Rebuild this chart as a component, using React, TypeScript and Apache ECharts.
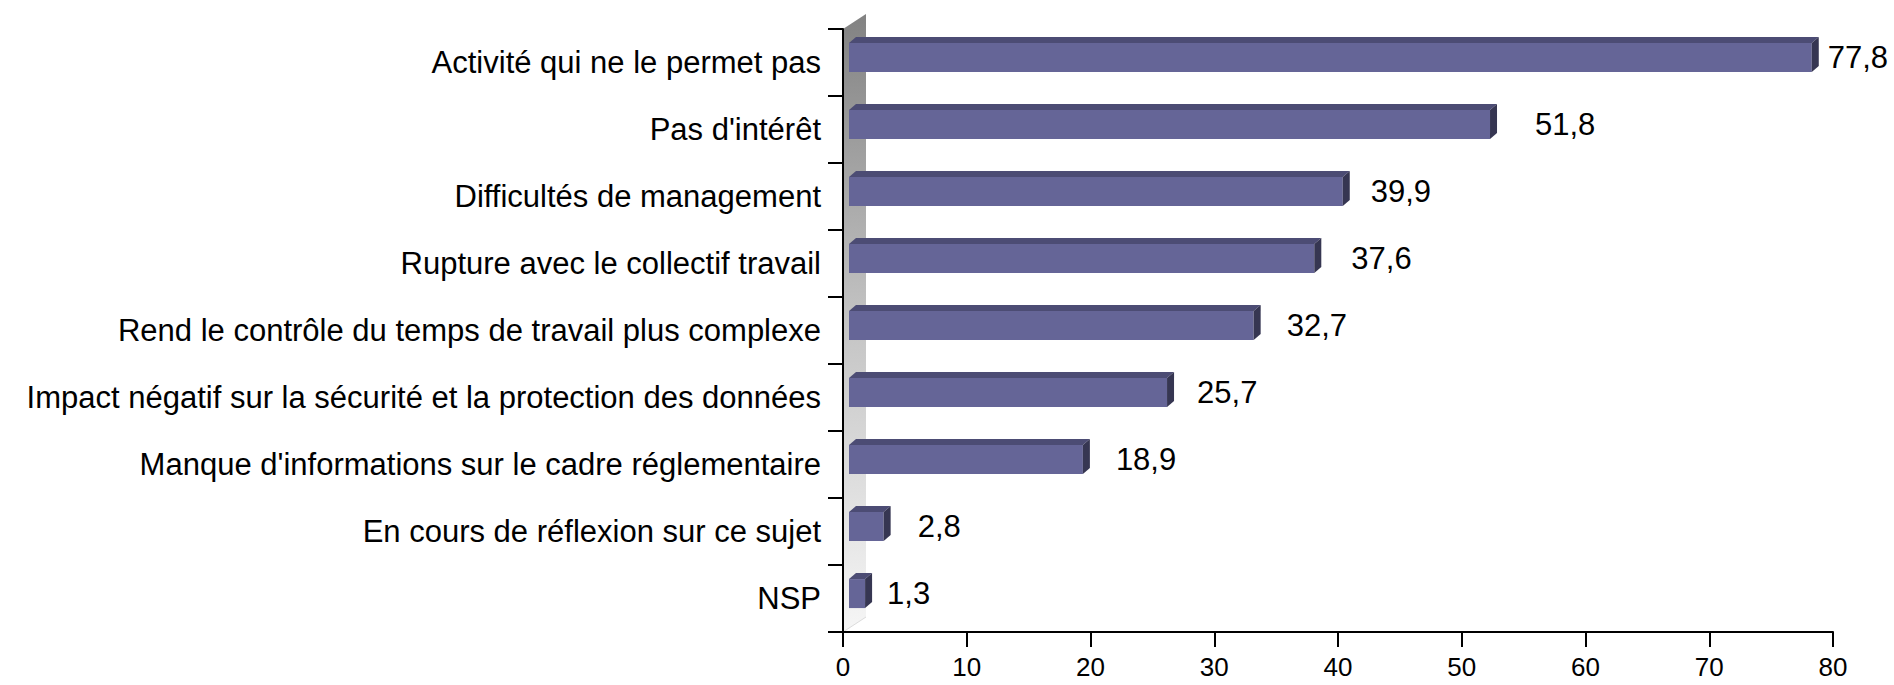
import React, { useEffect, useRef } from "react";
import * as echarts from "echarts";

const CATEGORIES = [
  "Activité qui ne le permet pas",
  "Pas d'intérêt",
  "Difficultés de management",
  "Rupture avec le collectif travail",
  "Rend le contrôle du temps de travail plus complexe",
  "Impact négatif sur la sécurité et la protection des données",
  "Manque d'informations sur le cadre réglementaire",
  "En cours de réflexion sur ce sujet",
  "NSP",
];
const VALUES = [77.8, 51.8, 39.9, 37.6, 32.7, 25.7, 18.9, 2.8, 1.3];
const X_MIN = 0;
const X_MAX = 80;
const X_STEP = 10;

// label gap (px) after the bar's right side, styling only
const LABEL_GAP = [9, 38, 21, 30, 26, 23, 26, 27, 15];

const W = 1894;
const H = 685;
const GRID_LEFT = 843;
const GRID_RIGHT = 61;
const GRID_TOP = 29;
const GRID_BOTTOM = 53;
const FONT = "'Liberation Sans', Arial, sans-serif";

export default function App() {
  const ref = useRef<HTMLDivElement>(null);
  useEffect(() => {
    document.body.style.margin = "0";
    const chart = echarts.init(ref.current!, null, { renderer: "svg" });
    const depthX = 7;
    const depthY = 6;
    const wallW = 23;
    const axisBottom = H - GRID_BOTTOM;
    chart.setOption({
      animation: false,
      backgroundColor: "#ffffff",
      grid: {
        left: GRID_LEFT,
        right: GRID_RIGHT,
        top: GRID_TOP,
        bottom: GRID_BOTTOM,
        containLabel: false,
      },
      graphic: [
        {
          type: "polygon",
          z: -10,
          silent: true,
          shape: {
            points: [
              [GRID_LEFT, GRID_TOP],
              [GRID_LEFT + wallW, GRID_TOP - 15],
              [GRID_LEFT + wallW, axisBottom - 15],
              [GRID_LEFT, axisBottom],
            ],
          },
          style: {
            fill: new echarts.graphic.LinearGradient(0, 0, 0, 1, [
              { offset: 0, color: "#828282" },
              { offset: 0.5, color: "#c4c4c4" },
              { offset: 1, color: "#f6f6f6" },
            ]),
          },
        },
        {
          type: "line",
          z: -9,
          silent: true,
          shape: {
            x1: GRID_LEFT,
            y1: axisBottom,
            x2: GRID_LEFT + wallW,
            y2: axisBottom - 15,
          },
          style: { stroke: "#dcdcdc", lineWidth: 1 },
        },
      ],
      xAxis: {
        type: "value",
        min: X_MIN,
        max: X_MAX,
        interval: X_STEP,
        splitLine: { show: false },
        axisLine: { show: true, lineStyle: { color: "#000", width: 2 } },
        axisTick: { show: true, length: 15, lineStyle: { color: "#000", width: 2 } },
        axisLabel: {
          color: "#000",
          fontSize: 26,
          fontFamily: FONT,
          margin: 22,
        },
      },
      yAxis: {
        type: "category",
        data: CATEGORIES,
        inverse: true,
        axisLine: { show: true, lineStyle: { color: "#000", width: 2 } },
        axisTick: { show: true, length: 15, lineStyle: { color: "#000", width: 2 } },
        axisLabel: {
          color: "#000",
          fontSize: 31,
          fontFamily: FONT,
          margin: 22,
        },
      },
      series: [
        {
          type: "custom",
          z: 5,
          data: VALUES.map((v, i) => [v, i]),
          encode: { x: 0, y: 1 },
          renderItem: (params: any, api: any) => {
            const idx = params.dataIndex;
            const val = api.value(0);
            const start = api.coord([0, idx]);
            const end = api.coord([val, idx]);
            const band = api.size([0, 1])[1];
            const cy = start[1];
            const fh = band * 0.433;
            const top = cy - band * 0.29;
            const x0 = start[0] + 6;
            const x1 = end[0] + 6;
            return {
              type: "group",
              children: [
                {
                  type: "rect",
                  shape: { x: x0, y: top, width: x1 - x0, height: fh },
                  style: { fill: "#656597" },
                },
                {
                  type: "polygon",
                  shape: {
                    points: [
                      [x0, top],
                      [x0 + depthX, top - depthY],
                      [x1 + depthX, top - depthY],
                      [x1, top],
                    ],
                  },
                  style: { fill: "#4c4c74" },
                },
                {
                  type: "polygon",
                  shape: {
                    points: [
                      [x1, top],
                      [x1 + depthX, top - depthY],
                      [x1 + depthX, top - depthY + fh],
                      [x1, top + fh],
                    ],
                  },
                  style: { fill: "#363652" },
                },
                {
                  type: "text",
                  style: {
                    x: x1 + depthX + LABEL_GAP[idx],
                    y: cy - 5,
                    text: String(VALUES[idx]).replace(".", ","),
                    fill: "#000",
                    fontSize: 31,
                    fontFamily: FONT,
                    align: "left",
                    verticalAlign: "middle",
                  },
                },
              ],
            };
          },
        },
      ],
    });
    return () => chart.dispose();
  }, []);
  return <div ref={ref} style={{ width: W, height: H }} />;
}
